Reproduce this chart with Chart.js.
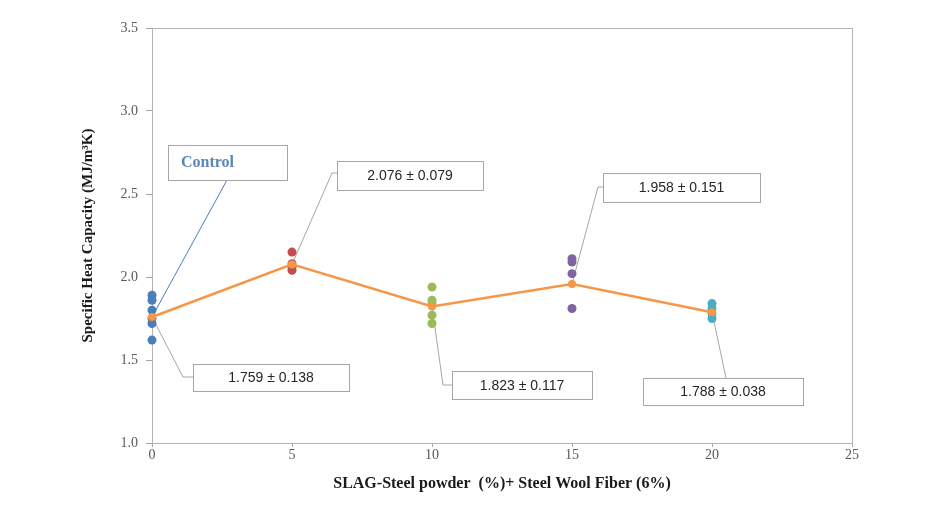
<!DOCTYPE html>
<html>
<head>
    <script src="https://cdn.jsdelivr.net/npm/chart.js@4.4.0/dist/chart.umd.min.js"></script>
    <title>Specific Heat Capacity</title>
    <style>
        body { margin: 0; background: #ffffff; }
    </style>
</head>

<body>
<canvas id="myChart" width="952" height="512"></canvas>

<script>
    // dosage of SLAG-steel powder (%)
    var doses = [0, 5, 10, 15, 20];
    var meanValues = [1.759, 2.076, 1.823, 1.958, 1.788];
    var sdValues = [0.138, 0.079, 0.117, 0.151, 0.038];

    // individual specimens at each dosage
    var samples0 = [1.89, 1.86, 1.80, 1.75, 1.72, 1.62];
    var samples5 = [2.15, 2.08, 2.06, 2.04];
    var samples10 = [1.94, 1.86, 1.84, 1.77, 1.72];
    var samples15 = [2.11, 2.09, 2.02, 1.81];
    var samples20 = [1.84, 1.81, 1.78, 1.75];
    var allSamples = [samples0, samples5, samples10, samples15, samples20];
    var sampleColors = ['#4a7ebb', '#c0504d', '#9bbb59', '#8064a2', '#4bacc6'];

    var xTicks = [0, 5, 10, 15, 20, 25];
    var yTicks = [1.0, 1.5, 2.0, 2.5, 3.0, 3.5];

    var controlLabel = 'Control';

    // callout boxes (pixel layout), one per dosage
    var callouts = [
        { box: [193, 364, 156, 27], edge: [193, 377], elbow: [183, 377] },
        { box: [337, 161, 146, 29], edge: [337, 173], elbow: [332, 173] },
        { box: [452, 371, 140, 28], edge: [452, 385], elbow: [443, 385] },
        { box: [603, 173, 157, 29], edge: [603, 187], elbow: [598, 187] },
        { box: [643, 378, 160, 27], edge: [726, 378], elbow: [726, 378] }
    ];
    var controlBox = [168, 145, 119, 35];

    var datasets = [];
    datasets.push({
        type: 'line',
        label: 'Mean',
        data: doses.map(function (d, i) { return { x: d, y: meanValues[i] }; }),
        borderColor: '#f79646',
        backgroundColor: '#f79646',
        borderWidth: 2.5,
        pointRadius: 4,
        pointBorderWidth: 0,
        tension: 0,
        clip: false
    });
    for (var i = 0; i < allSamples.length; i++) {
        datasets.push({
            type: 'scatter',
            label: 'Dose ' + doses[i],
            data: allSamples[i].map(function (v) { return { x: doses[i], y: v }; }),
            backgroundColor: sampleColors[i],
            borderColor: sampleColors[i],
            pointRadius: 4.5,
            pointBorderWidth: 0,
            clip: false
        });
    }

    var calloutPlugin = {
        id: 'callouts',
        beforeDatasetsDraw: function (chart) {
            var ctx = chart.ctx;
            var a = chart.chartArea;
            var xs = chart.scales.x, ys = chart.scales.y;
            ctx.save();
            // plot area frame
            ctx.strokeStyle = '#b4b4b4';
            ctx.lineWidth = 1;
            ctx.strokeRect(a.left + 0.5, a.top + 0.5, a.right - a.left, a.bottom - a.top);
            // leader lines
            ctx.strokeStyle = '#a6a6a6';
            for (var i = 0; i < callouts.length; i++) {
                var c = callouts[i];
                ctx.beginPath();
                ctx.moveTo(xs.getPixelForValue(doses[i]), ys.getPixelForValue(meanValues[i]));
                ctx.lineTo(c.elbow[0], c.elbow[1]);
                ctx.lineTo(c.edge[0], c.edge[1]);
                ctx.stroke();
            }
            ctx.strokeStyle = '#4a7ebb';
            ctx.beginPath();
            ctx.moveTo(controlBox[0] + 59, controlBox[1] + controlBox[3]);
            ctx.lineTo(xs.getPixelForValue(doses[0]), ys.getPixelForValue(meanValues[0]));
            ctx.stroke();
            ctx.restore();
        },
        afterDatasetsDraw: function (chart) {
            var ctx = chart.ctx;
            ctx.save();
            ctx.lineWidth = 1;
            ctx.textBaseline = 'middle';
            for (var i = 0; i < callouts.length; i++) {
                var b = callouts[i].box;
                ctx.fillStyle = '#ffffff';
                ctx.fillRect(b[0], b[1], b[2], b[3]);
                ctx.strokeStyle = '#a6a6a6';
                ctx.strokeRect(b[0] + 0.5, b[1] + 0.5, b[2], b[3]);
                ctx.fillStyle = '#262626';
                ctx.font = '14px "Liberation Sans"';
                ctx.textAlign = 'center';
                ctx.fillText(meanValues[i].toFixed(3) + ' \u00b1 ' + sdValues[i].toFixed(3), b[0] + b[2] / 2, b[1] + b[3] / 2 + 1);
            }
            var cb = controlBox;
            ctx.fillStyle = '#ffffff';
            ctx.fillRect(cb[0], cb[1], cb[2], cb[3]);
            ctx.strokeStyle = '#a6a6a6';
            ctx.strokeRect(cb[0] + 0.5, cb[1] + 0.5, cb[2], cb[3]);
            ctx.fillStyle = '#5a86b8';
            ctx.font = 'bold 16px "Liberation Serif"';
            ctx.textAlign = 'left';
            ctx.fillText(controlLabel, cb[0] + 13, cb[1] + cb[3] / 2);
            ctx.restore();
        }
    };

    var ctx = document.getElementById('myChart').getContext('2d');
    var myChart = new Chart(ctx, {
        data: { datasets: datasets },
        options: {
            responsive: false,
            animation: false,
            layout: { padding: { top: 28, right: 100, left: 0, bottom: 0 } },
            plugins: {
                legend: { display: false },
                tooltip: { enabled: false }
            },
            scales: {
                x: {
                    type: 'linear',
                    min: 0,
                    max: 25,
                    afterBuildTicks: function (axis) {
                        axis.ticks = xTicks.map(function (v) { return { value: v }; });
                    },
                    afterFit: function (axis) { axis.height = 69; },
                    ticks: {
                        color: '#595959',
                        font: { family: 'Liberation Serif', size: 14 },
                        padding: 0,
                        maxRotation: 0
                    },
                    grid: { drawOnChartArea: false, tickLength: 4, color: '#a6a6a6' },
                    border: { color: '#a6a6a6' },
                    title: {
                        display: true,
                        text: 'SLAG-Steel powder  (%)+ Steel Wool Fiber (6%)',
                        color: '#1a1a1a',
                        font: { family: 'Liberation Serif', size: 16, weight: 'bold' },
                        padding: { top: 0, bottom: 19 }
                    }
                },
                y: {
                    type: 'linear',
                    min: 1,
                    max: 3.5,
                    afterBuildTicks: function (axis) {
                        axis.ticks = yTicks.map(function (v) { return { value: v }; });
                    },
                    afterFit: function (axis) { axis.width = 152; },
                    ticks: {
                        color: '#595959',
                        font: { family: 'Liberation Serif', size: 14 },
                        padding: 8,
                        callback: function (v) { return Number(v).toFixed(1); }
                    },
                    grid: { drawOnChartArea: false, tickLength: 6, color: '#a6a6a6' },
                    border: { color: '#a6a6a6' },
                    title: {
                        display: true,
                        text: 'Specific Heat Capacity (MJ/m\u00b3K)',
                        color: '#1a1a1a',
                        font: { family: 'Liberation Serif', size: 15, weight: 'bold' },
                        padding: { top: 79, bottom: 0 }
                    }
                }
            }
        },
        plugins: [calloutPlugin]
    });
</script>

</body>
</html>
